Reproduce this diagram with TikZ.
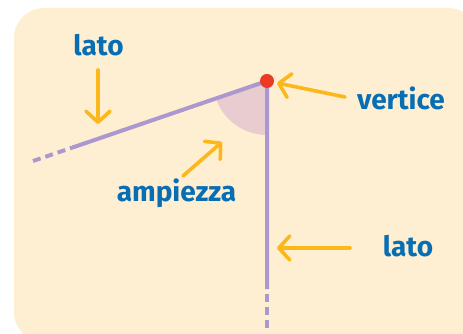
\documentclass[tikz,border=0pt]{standalone}
\usepackage{fontspec}
\setmainfont{Fira Sans}
\usepackage{tikz}
\usetikzlibrary{arrows.meta}
\definecolor{bgcream}{RGB}{254,239,210}
\definecolor{labelblue}{RGB}{8,110,180}
\definecolor{pointerorange}{RGB}{252,184,26}
\definecolor{sidelilac}{RGB}{170,152,206}
\definecolor{wedgepink}{RGB}{233,204,208}
\definecolor{vertexred}{RGB}{236,58,36}

\begin{document}
\begin{tikzpicture}[x=1pt, y=1pt,
  word/.style={text=labelblue, font=\fontsize{28}{30}\selectfont\bfseries, inner sep=0pt, anchor=base},
  pointer/.style={draw=pointerorange, line width=3.6pt, line cap=round,
    -{Straight Barb[length=11pt, width=24pt, line cap=round, line join=round]}},
  side/.style={draw=sidelilac, line width=4pt}]
\useasboundingbox (0,0) rectangle (463,334);
\fill[white] (0,0) rectangle (463,334);
\clip (0,0) rectangle (463,334);
\fill[bgcream, rounded corners=30pt] (14,-8) rectangle (478,326);

\coordinate (vtx) at (267,253);
\coordinate (lbreak) at (72,186.3);
\coordinate (lend) at (33,173);
\coordinate (dbreak) at (267,45);
\coordinate (dend) at (267,6);

\fill[wedgepink] (vtx) -- ++(198.9:54) arc (198.9:270:54) -- cycle;
\draw[side] (lbreak) -- (vtx) -- (dbreak);
\draw[side, dash pattern=on 8pt off 5pt] (lend) -- (lbreak);
\draw[side, dash pattern=on 8pt off 5pt] (dend) -- (dbreak);
\fill[vertexred] (vtx) circle (7);

\node[word] (latoup) at (98.5,278) {lato};
\node[word] (vertice) at (401,224) {vertice};
\node[word] (ampiezza) at (176.5,132) {ampiezza};
\node[word] (latodown) at (408,77) {lato};

\coordinate (upfrom) at (98,264);
\coordinate (upto) at (98,210);
\coordinate (vfrom) at (345,237);
\coordinate (vto) at (277,251);
\coordinate (afrom) at (183,158);
\coordinate (ato) at (222,192);
\coordinate (dfrom) at (350,86);
\coordinate (dto) at (277,86);
\draw[pointer] (upfrom) -- (upto);
\draw[pointer] (vfrom) -- (vto);
\draw[pointer] (afrom) -- (ato);
\draw[pointer] (dfrom) -- (dto);
\end{tikzpicture}
\end{document}
